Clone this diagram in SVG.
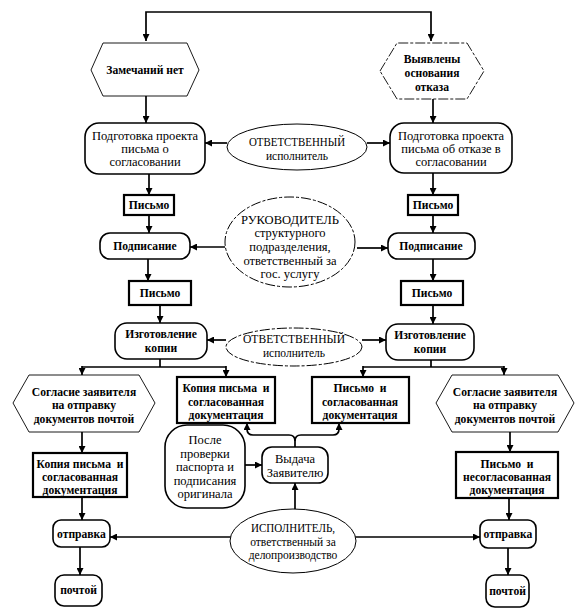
<svg xmlns="http://www.w3.org/2000/svg" width="586" height="613" viewBox="0 0 586 613">
<defs>
<style>
.t{font-family:"Liberation Serif","Times New Roman",serif;font-size:12.5px;text-anchor:middle;dominant-baseline:central;fill:#000}
.b{font-weight:bold;font-size:11.6px}
.s{font-size:11.5px}
.box{fill:#fff;stroke:#000;stroke-width:2.2}
.rnd{fill:#fff;stroke:#000;stroke-width:1.6}
.hex{fill:#fff;stroke:#000;stroke-width:0.9}
.dash{stroke-dasharray:10 2 3 2}
.ell{fill:#fff;stroke:#000;stroke-width:1}
.c{fill:none;stroke:#000;stroke-width:1.7;marker-end:url(#ah)}
.l{fill:none;stroke:#000;stroke-width:1.7}
</style>
<marker id="ah" viewBox="0 0 10 10" refX="10" refY="5" markerWidth="8" markerHeight="7" markerUnits="userSpaceOnUse" orient="auto-start-reverse">
<path d="M0,0 L10,5 L0,10 z" fill="#000"/>
</marker>
</defs>
<rect width="586" height="613" fill="#fff"/>

<g id="connectors">
<path class="c" style="marker-start:url(#ah)" d="M146,41 V12 H431 V41"/>
<path class="c" d="M146,96 V123"/>
<path class="c" d="M433,99 V123"/>
<path class="c" d="M227,143 H205"/>
<path class="c" d="M367,143 H390"/>
<path class="c" d="M149,174 V195"/>
<path class="c" d="M433,173 V195"/>
<path class="c" d="M149,215 V233"/>
<path class="c" d="M433,215 V233"/>
<path class="c" d="M225,247 H190"/>
<path class="c" d="M357,248 H388"/>
<path class="c" d="M148,259 V281"/>
<path class="c" d="M433,259 V281"/>
<path class="c" d="M160,305 V323"/>
<path class="c" d="M433,305 V324"/>
<path class="c" d="M226,340 H207"/>
<path class="c" d="M362,340 H386"/>
<path class="l" d="M160,359 V367 M82,367 H226 M431,360 V367 M363,367 H504"/>
<path class="c" d="M82,366 V375"/>
<path class="c" d="M226,366 V377"/>
<path class="c" d="M363,366 V377"/>
<path class="c" d="M504,366 V375"/>
<path class="c" d="M82,432 V453"/>
<path class="c" d="M82,497 V520"/>
<path class="c" d="M80,547 V575"/>
<path class="c" d="M510,432 V452"/>
<path class="c" d="M509,498 V520"/>
<path class="c" d="M508,548 V575"/>
<path class="c" d="M231,537 H110"/>
<path class="c" d="M355,537 H480"/>
<path class="c" d="M245,465 H262"/>
<path class="c" d="M295,509 V483"/>
<path class="c" d="M295,447 V441 Q295,435 289,435 H253 Q247,435 247,429 V423"/>
<path class="c" d="M295,441 Q295,435 301,435 H333 Q339,435 339,429 V423"/>
</g>

<g id="no-remarks">
<polygon class="hex" points="91,70 103,43 187,43 199,70 187,96 103,96"/>
<text class="t b" x="145" y="70">Замечаний нет</text>
</g>
<g id="refusal-grounds">
<polygon class="hex dash" points="380,71 397,43 467,43 484,71 467,99 397,99"/>
<text class="t b" x="432" y="59">Выявлены</text>
<text class="t b" x="432" y="73">основания</text>
<text class="t b" x="432" y="87">отказа</text>
</g>
<g id="prep-approval">
<rect class="rnd" x="85" y="123" width="120" height="51" rx="14"/>
<text class="t" x="145" y="136">Подготовка проекта</text>
<text class="t" x="145" y="149">письма о</text>
<text class="t" x="145" y="162">согласовании</text>
</g>
<g id="prep-refusal">
<rect class="rnd" x="390" y="123" width="122" height="50" rx="14"/>
<text class="t" x="451" y="136">Подготовка проекта</text>
<text class="t" x="451" y="149">письма об отказе в</text>
<text class="t" x="451" y="162">согласовании</text>
</g>
<g id="responsible-1">
<ellipse class="ell" cx="297" cy="147" rx="70" ry="23"/>
<text class="t" x="297" y="141" textLength="96" lengthAdjust="spacingAndGlyphs" style="font-size:13px">ОТВЕТСТВЕННЫЙ</text>
<text class="t s" x="297" y="156">исполнитель</text>
</g>
<g id="letter-l1">
<rect class="box" x="124" y="195" width="50" height="20"/>
<text class="t b" x="149" y="205">Письмо</text>
</g>
<g id="letter-r1">
<rect class="box" x="408" y="195" width="50" height="20"/>
<text class="t b" x="433" y="205">Письмо</text>
</g>
<g id="sign-l">
<rect class="rnd" x="100" y="233" width="90" height="26" rx="10"/>
<text class="t b" x="145" y="246">Подписание</text>
</g>
<g id="sign-r">
<rect class="rnd" x="388" y="233" width="87" height="26" rx="10"/>
<text class="t b" x="431" y="246">Подписание</text>
</g>
<g id="head">
<ellipse class="ell dash" cx="290" cy="242" rx="65" ry="45"/>
<text class="t" x="290" y="219" textLength="98" lengthAdjust="spacingAndGlyphs" style="font-size:13px">РУКОВОДИТЕЛЬ</text>
<text class="t" x="290" y="233">структурного</text>
<text class="t" x="290" y="247">подразделения,</text>
<text class="t" x="290" y="261">ответственный за</text>
<text class="t" x="290" y="274">гос. услугу</text>
</g>
<g id="letter-l2">
<rect class="box" x="129" y="281" width="62" height="24"/>
<text class="t b" x="160" y="293">Письмо</text>
</g>
<g id="letter-r2">
<rect class="box" x="401" y="281" width="62" height="24"/>
<text class="t b" x="432" y="293">Письмо</text>
</g>
<g id="copy-l">
<rect class="rnd" x="115" y="323" width="92" height="36" rx="12"/>
<text class="t b" x="161" y="334">Изготовление</text>
<text class="t b" x="161" y="348">копии</text>
</g>
<g id="copy-r">
<rect class="rnd" x="386" y="324" width="88" height="36" rx="12"/>
<text class="t b" x="430" y="335">Изготовление</text>
<text class="t b" x="430" y="349">копии</text>
</g>
<g id="responsible-2">
<ellipse class="ell dash" cx="294" cy="347" rx="68" ry="19"/>
<text class="t" x="294" y="338" textLength="102" lengthAdjust="spacingAndGlyphs" style="font-size:13px">ОТВЕТСТВЕННЫЙ</text>
<text class="t s" x="294" y="353">исполнитель</text>
</g>
<g id="consent-l">
<polygon class="hex" points="13,403 29,375 139,375 155,403 139,432 29,432"/>
<text class="t b" x="84" y="392">Согласие заявителя</text>
<text class="t b" x="84" y="405">на отправку</text>
<text class="t b" x="84" y="419">документов почтой</text>
</g>
<g id="consent-r">
<polygon class="hex" points="436,403 452,375 558,375 574,403 558,432 452,432"/>
<text class="t b" x="505" y="392">Согласие заявителя</text>
<text class="t b" x="505" y="405">на отправку</text>
<text class="t b" x="505" y="419">документов почтой</text>
</g>
<g id="copy-docs-c">
<rect class="box" x="177" y="377" width="98" height="46"/>
<text class="t b" x="226" y="388" xml:space="preserve">Копия письма  и</text>
<text class="t b" x="226" y="402">согласованная</text>
<text class="t b" x="226" y="415">документация</text>
</g>
<g id="letter-docs-c">
<rect class="box" x="312" y="377" width="97" height="46"/>
<text class="t b" x="360" y="388" xml:space="preserve">Письмо  и</text>
<text class="t b" x="360" y="402">согласованная</text>
<text class="t b" x="360" y="415">документация</text>
</g>
<g id="after-check">
<rect class="rnd" x="165" y="425" width="80" height="83" rx="22"/>
<text class="t" x="205" y="440">После</text>
<text class="t" x="205" y="454">проверки</text>
<text class="t" x="205" y="467">паспорта и</text>
<text class="t" x="205" y="481">подписания</text>
<text class="t" x="205" y="494">оригинала</text>
</g>
<g id="issue">
<rect class="rnd" x="262" y="447" width="66" height="36" rx="10"/>
<text class="t" x="295" y="459">Выдача</text>
<text class="t" x="295" y="473">Заявителю</text>
</g>
<g id="copy-docs-l">
<rect class="box" x="33" y="453" width="94" height="44"/>
<text class="t b" x="80" y="464" xml:space="preserve">Копия письма  и</text>
<text class="t b" x="80" y="477">согласованная</text>
<text class="t b" x="80" y="490">документация</text>
</g>
<g id="letter-docs-r">
<rect class="box" x="456" y="452" width="102" height="46"/>
<text class="t b" x="507" y="464" xml:space="preserve">Письмо  и</text>
<text class="t b" x="507" y="477">несогласованная</text>
<text class="t b" x="507" y="490">документация</text>
</g>
<g id="clerk">
<ellipse class="ell" cx="293" cy="541" rx="63" ry="32"/>
<text class="t" x="293" y="527" textLength="84" lengthAdjust="spacingAndGlyphs" style="font-size:13px">ИСПОЛНИТЕЛЬ,</text>
<text class="t s" x="293" y="542">ответственный за</text>
<text class="t s" x="293" y="555">делопроизводство</text>
</g>
<g id="send-l">
<rect class="rnd" x="53" y="520" width="57" height="27" rx="8"/>
<text class="t b" x="81.5" y="534">отправка</text>
</g>
<g id="send-r">
<rect class="rnd" x="480" y="520" width="56" height="28" rx="8"/>
<text class="t b" x="508" y="534">отправка</text>
</g>
<g id="mail-l">
<rect class="rnd" x="55" y="575" width="47" height="31" rx="9"/>
<text class="t b" x="78.5" y="590">почтой</text>
</g>
<g id="mail-r">
<rect class="rnd" x="486" y="575" width="43" height="32" rx="9"/>
<text class="t b" x="507.5" y="591">почтой</text>
</g>
</svg>
